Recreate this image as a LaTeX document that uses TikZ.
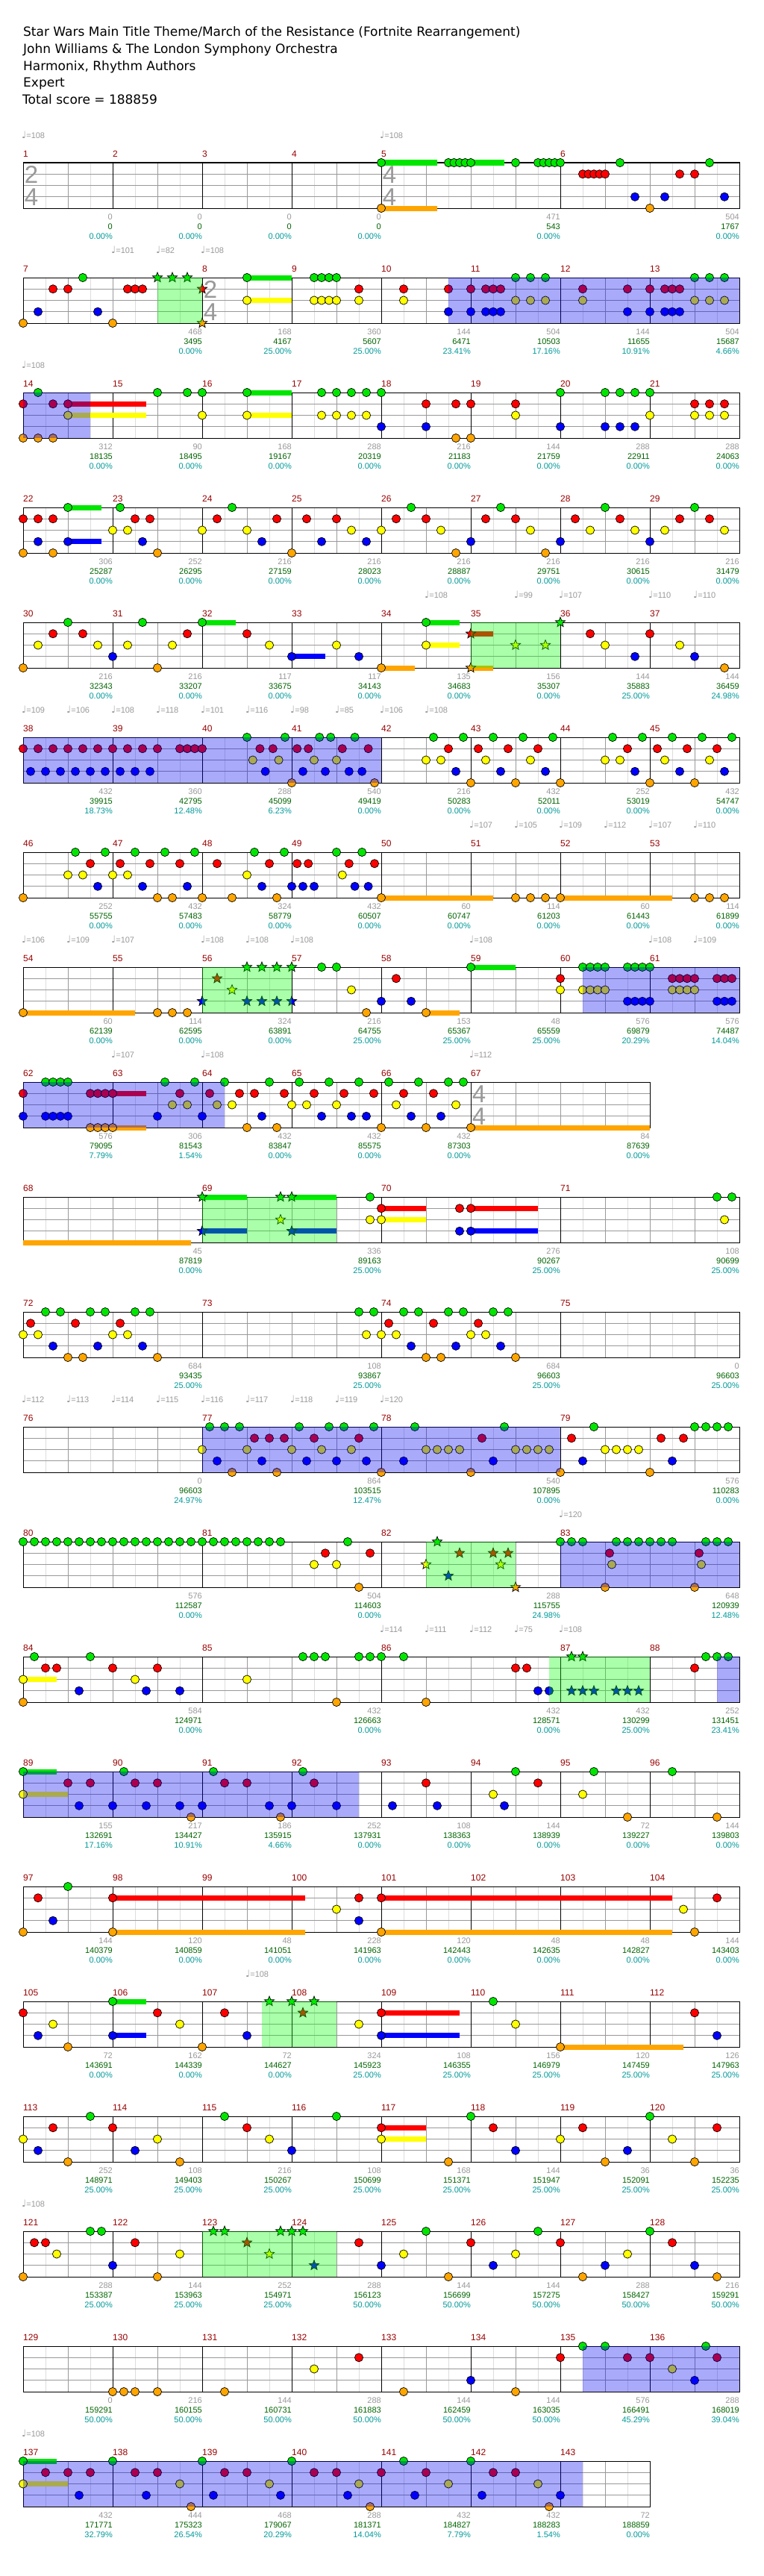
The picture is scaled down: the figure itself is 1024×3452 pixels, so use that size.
\documentclass[tikz,border=0pt]{standalone}
\usepackage{fontspec}
\setmainfont{Liberation Sans}
\newfontfamily\titlefont{DejaVu Sans}
\newfontfamily\notefont{DejaVu Sans}
\usetikzlibrary{positioning}

\definecolor{ln0}{RGB}{0,230,0}
\definecolor{ln1}{RGB}{255,0,0}
\definecolor{ln2}{RGB}{255,255,0}
\definecolor{ln3}{RGB}{0,0,255}
\definecolor{ln4}{RGB}{255,165,0}
\definecolor{odblue}{RGB}{0,0,240}
\definecolor{spgreen}{RGB}{0,255,0}
\definecolor{mred}{RGB}{153,0,0}
\definecolor{sgrey}{RGB}{153,153,153}
\definecolor{sgreen}{RGB}{0,100,0}
\definecolor{steal}{RGB}{0,153,153}
\definecolor{gridlight}{RGB}{221,221,221}

\tikzset{
  titletext/.style={anchor=base west, inner sep=0pt, font=\titlefont\fontsize{17}{17}\selectfont},
  mnum/.style={anchor=west, inner sep=0pt, text=mred, font=\fontsize{12}{12}\selectfont},
  lblgrey/.style={anchor=east, inner sep=0pt, text=sgrey, font=\fontsize{11}{11}\selectfont},
  lblgreen/.style={anchor=east, inner sep=0pt, text=sgreen, font=\fontsize{11}{11}\selectfont},
  lblpct/.style={anchor=east, inner sep=0pt, text=steal, font=\fontsize{11}{11}\selectfont},
  tempo/.style={anchor=west, inner sep=0pt, text=sgrey, font=\fontsize{11}{11}\selectfont},
  tsigdig/.style={inner sep=0pt, text=sgrey, font=\fontsize{33}{33}\selectfont},
  staffline/.style={draw=black, line width=1pt},
  barline/.style={draw=black, line width=1pt},
  laneline/.style={draw=sgrey, line width=1pt},
  beatline/.style={draw=sgrey, line width=1pt},
  halfline/.style={draw=gridlight, line width=1pt},
  note/.style={draw=black, line width=0.7pt},
  odfill/.style={fill=odblue, fill opacity=0.333},
  spfill/.style={fill=spgreen, fill opacity=0.333},
  pics/starmark/.style={code={
    \filldraw[note, fill=#1] (270:7) -- (306:3) -- (342:7) -- (18:3) -- (54:7) -- (90:3)
      -- (126:7) -- (162:3) -- (198:7) -- (234:3) -- cycle;}}
}

% staff of #1 beats, 60px per beat
\newcommand\staff[1]{%
  \pgfmathtruncatemacro\halfmax{2*#1-1}%
  \foreach \k in {1,3,...,\halfmax}{\draw[halfline] ({31+30*\k},0) -- ({31+30*\k},61);}%
  \foreach \k in {1,...,#1}{\draw[beatline] ({31+60*\k},0) -- ({31+60*\k},61);}%
  \foreach \l in {1,2,3}{\draw[laneline] (31,{15.25*\l}) -- ({31+60*#1},{15.25*\l});}%
  \draw[staffline] (31,0) rectangle ({31+60*#1},61);}
% measure: start beat, number, end beat, score, total, percent
\newcommand\msr[6]{%
  \draw[barline] ({31+60*#1},0) -- ({31+60*#1},61);
  \node[mnum] (m#2) at ({31+60*#1},-12) {#2};
  \node[lblgrey] (g#2) at ({31+60*#3},73) {#4};
  \node[lblgreen] (t#2) at ({31+60*#3},86) {#5};
  \node[lblpct] (p#2) at ({31+60*#3},99) {#6\%};}
\newcommand\tsig[3]{%
  \node[tsigdig] (ts\rw-#1a) at ({31+60*#1+11},16) {#2};
  \node[tsigdig] (ts\rw-#1b) at ({31+60*#1+11},46) {#3};}
\newcommand\tmp[2]{\node[tempo] (tp\rw-#1) at ({31+60*#1-2},-37) {{\notefont\fontsize{13}{13}\selectfont ♩}=#2};}
\newcommand\nts[2]{\foreach \b in {#2}{\filldraw[note, fill=ln#1] ({31+60*\b},{15.25*#1}) circle[radius=5.6];}}
\newcommand\sts[2]{\foreach \b in {#2}{\pic at ({31+60*\b},{15.25*#1}) {starmark=ln#1};}}
\newcommand\sus[3]{\fill[ln#1] ({31+60*#2},{15.25*#1-3.5}) rectangle ({31+60*#3},{15.25*#1+3.5});}
\newcommand\odzone[2]{\fill[odfill] ({31+60*#1},0) rectangle ({31+60*#2},61);}
\newcommand\spzone[2]{\fill[spfill] ({31+60*#1},0) rectangle ({31+60*#2},61);}

\begin{document}
\begin{tikzpicture}[x=1pt, y=-1pt]
\useasboundingbox (0,0) rectangle (1024,3452);
\fill[white] (0,0) rectangle (1024,3452);

% header
\node[titletext] (song) at (31,48.5) {Star Wars Main Title Theme/March of the Resistance (Fortnite Rearrangement)};
\node[titletext] (artist) at (31,71.5) {John Williams \& The London Symphony Orchestra};
\node[titletext] (authors) at (31,94.5) {Harmonix, Rhythm Authors};
\node[titletext] (level) at (31,117) {Expert};
\node[titletext] (total) at (30,140) {Total score = 188859};

% row 1
\begin{scope}[shift={(0,218)}]\def\rw{1}
\staff{16}
\msr{0}{1}{2}{0}{0}{0.00}
\msr{2}{2}{4}{0}{0}{0.00}
\msr{4}{3}{6}{0}{0}{0.00}
\msr{6}{4}{8}{0}{0}{0.00}
\msr{8}{5}{12}{471}{543}{0.00}
\msr{12}{6}{16}{504}{1767}{0.00}
\tsig{0}{2}{4}\tsig{8}{4}{4}
\tmp{0}{108}\tmp{8}{108}
\sus{0}{8}{9.25}\sus{4}{8}{9.25}\sus{0}{10}{10.75}
\nts{0}{8,9.5,9.625,9.75,9.875,10,11,11.5,11.625,11.75,11.875,12,13.333,15.333}
\nts{1}{12.5,12.625,12.75,12.875,13,14.667,15}
\nts{3}{13.667,14.333,15.667}
\nts{4}{8,14}
\end{scope}

% row 2
\begin{scope}[shift={(0,372)}]\def\rw{2}
\staff{16}
\msr{0}{7}{4}{468}{3495}{0.00}
\msr{4}{8}{6}{168}{4167}{25.00}
\msr{6}{9}{8}{360}{5607}{25.00}
\msr{8}{10}{10}{144}{6471}{23.41}
\msr{10}{11}{12}{504}{10503}{17.16}
\msr{12}{12}{14}{144}{11655}{10.91}
\msr{14}{13}{16}{504}{15687}{4.66}
\tsig{4}{2}{4}
\tmp{2}{101}\tmp{3}{82}\tmp{4}{108}
\sus{0}{5}{6}\sus{2}{5}{6}
\nts{0}{1.333,5,6.5,6.667,6.833,7,11,11.333,11.667,15,15.333,15.667}
\nts{1}{0.667,1,2.333,2.5,2.667,7.5,8.5,9.5,10,10.333,10.5,10.667,12.5,13.5,14,14.333,14.5,14.667}
\nts{2}{5,6.5,6.667,6.833,7,7.5,8.5,11,11.333,11.667,12.5,15,15.333,15.667}
\nts{3}{0.333,1.667,9.5,10,10.333,10.5,10.667,13.5,14,14.333,14.5,14.667}
\nts{4}{0,2}
\sts{0}{3,3.333,3.667}\sts{1}{4}\sts{4}{4}
\spzone{3}{4}\odzone{9.5}{16}
\end{scope}

% row 3
\begin{scope}[shift={(0,526)}]\def\rw{3}
\staff{16}
\msr{0}{14}{2}{312}{18135}{0.00}
\msr{2}{15}{4}{90}{18495}{0.00}
\msr{4}{16}{6}{168}{19167}{0.00}
\msr{6}{17}{8}{288}{20319}{0.00}
\msr{8}{18}{10}{216}{21183}{0.00}
\msr{10}{19}{12}{144}{21759}{0.00}
\msr{12}{20}{14}{288}{22911}{0.00}
\msr{14}{21}{16}{288}{24063}{0.00}
\tmp{0}{108}
\sus{1}{1}{2.75}\sus{2}{1}{2.75}\sus{0}{5}{6}\sus{2}{5}{6}
\nts{0}{0.333,3,3.667,4,5,6.667,7,7.333,7.667,8,12,13,13.333,13.667,14}
\nts{1}{0,0.667,1,9,9.667,10,11,15,15.333,15.667}
\nts{2}{1,4,5,6.667,7,7.333,7.667,11,14,15,15.333,15.667}
\nts{3}{8,9,12,13,13.333,13.667}
\nts{4}{0,0.333,0.667,9.667,10}
\odzone{0}{1.5}
\end{scope}

% row 4
\begin{scope}[shift={(0,680)}]\def\rw{4}
\staff{16}
\msr{0}{22}{2}{306}{25287}{0.00}
\msr{2}{23}{4}{252}{26295}{0.00}
\msr{4}{24}{6}{216}{27159}{0.00}
\msr{6}{25}{8}{216}{28023}{0.00}
\msr{8}{26}{10}{216}{28887}{0.00}
\msr{10}{27}{12}{216}{29751}{0.00}
\msr{12}{28}{14}{216}{30615}{0.00}
\msr{14}{29}{16}{216}{31479}{0.00}
\sus{0}{1}{1.75}\sus{3}{1}{1.75}
\nts{0}{1,2.167,4.667,8.667,10.667,13,15}
\nts{1}{0,0.333,0.667,2.5,2.833,4.333,5.667,6.333,7,8.333,9,10.333,11,12.333,13.333,14.667,15.333}
\nts{2}{2,2.333,4,5,7.333,8,9.333,11.333,12.667,13.667,14.333,15.667}
\nts{3}{0.333,1,2.667,5.333,6.667,7.667,10,12,14}
\nts{4}{0,0.667,3,6,9.667,11.667}
\end{scope}

% row 5
\begin{scope}[shift={(0,834)}]\def\rw{5}
\staff{16}
\msr{0}{30}{2}{216}{32343}{0.00}
\msr{2}{31}{4}{216}{33207}{0.00}
\msr{4}{32}{6}{117}{33675}{0.00}
\msr{6}{33}{8}{117}{34143}{0.00}
\msr{8}{34}{10}{135}{34683}{0.00}
\msr{10}{35}{12}{156}{35307}{0.00}
\msr{12}{36}{14}{144}{35883}{25.00}
\msr{14}{37}{16}{144}{36459}{24.98}
\tmp{9}{108}\tmp{11}{99}\tmp{12}{107}\tmp{14}{110}\tmp{15}{110}
\sus{0}{4}{4.75}\sus{3}{6}{6.75}\sus{4}{8}{8.75}\sus{0}{9}{9.75}\sus{2}{9}{9.75}
\sus{1}{10}{10.5}\sus{4}{10}{10.5}
\nts{0}{1,2.667,4,9}
\nts{1}{0.667,1.333,3.667,5,12.667,14}
\nts{2}{0.333,1.667,2.333,3.333,5.5,7,9,13,14.667}
\nts{3}{2,6,7.5,13.667,15}
\nts{4}{0,3,8,15.667}
\sts{1}{10}\sts{4}{10}\sts{2}{11,11.667}\sts{0}{12}
\spzone{10}{12}
\end{scope}

% row 6
\begin{scope}[shift={(0,988)}]\def\rw{6}
\staff{16}
\msr{0}{38}{2}{432}{39915}{18.73}
\msr{2}{39}{4}{360}{42795}{12.48}
\msr{4}{40}{6}{288}{45099}{6.23}
\msr{6}{41}{8}{540}{49419}{0.00}
\msr{8}{42}{10}{216}{50283}{0.00}
\msr{10}{43}{12}{432}{52011}{0.00}
\msr{12}{44}{14}{252}{53019}{0.00}
\msr{14}{45}{16}{432}{54747}{0.00}
\tmp{0}{109}\tmp{1}{106}\tmp{2}{108}\tmp{3}{118}\tmp{4}{101}
\tmp{5}{116}\tmp{6}{98}\tmp{7}{85}\tmp{8}{106}\tmp{9}{108}
\nts{0}{5,5.85,6.62,6.87,7.41,9.167,9.833,10.5,11.167,11.833,13.167,13.833,14.5,15.167,15.833}
\nts{1}{0,0.333,0.667,1,1.333,1.667,2,2.333,2.667,3,3.5,3.667,3.833,4,5.29,5.58,6.12,6.37,7.13,7.71,9.5,10.167,10.833,11.5,13.5,14.167,14.833,15.5}
\nts{2}{5.13,5.71,6.5,7,9,9.333,10.333,11.333,13,13.333,14.333,15.333}
\nts{3}{0.167,0.5,0.833,1.167,1.5,1.833,2.167,2.5,2.833,5.41,6.25,6.75,7.28,7.57,9.667,10.667,11.667,13.667,14.667,15.667}
\nts{4}{6,7.85,10,11,12,14,15}
\odzone{0}{8}
\end{scope}

% row 7
\begin{scope}[shift={(0,1142)}]\def\rw{7}
\staff{16}
\msr{0}{46}{2}{252}{55755}{0.00}
\msr{2}{47}{4}{432}{57483}{0.00}
\msr{4}{48}{6}{324}{58779}{0.00}
\msr{6}{49}{8}{432}{60507}{0.00}
\msr{8}{50}{10}{60}{60747}{0.00}
\msr{10}{51}{12}{114}{61203}{0.00}
\msr{12}{52}{14}{60}{61443}{0.00}
\msr{14}{53}{16}{114}{61899}{0.00}
\tmp{10}{107}\tmp{11}{105}\tmp{12}{109}\tmp{13}{112}\tmp{14}{107}\tmp{15}{110}
\sus{4}{8}{10.5}\sus{4}{12}{14.5}
\nts{0}{1.167,1.833,2.5,3.167,3.833,5.167,5.833,7,7.57}
\nts{1}{1.5,2.167,2.833,3.5,4.333,5.5,6.12,6.37,7.28,7.85}
\nts{2}{1,1.333,2,2.333,5,7.13}
\nts{3}{1.667,2.667,3.667,5.333,6,6.25,6.5,7.41,7.71}
\nts{4}{0,3,3.333,4,4.667,5.667,8,11,11.333,11.667,12,15,15.333,15.667}
\end{scope}

% row 8
\begin{scope}[shift={(0,1296)}]\def\rw{8}
\staff{16}
\msr{0}{54}{2}{60}{62139}{0.00}
\msr{2}{55}{4}{114}{62595}{0.00}
\msr{4}{56}{6}{324}{63891}{0.00}
\msr{6}{57}{8}{216}{64755}{25.00}
\msr{8}{58}{10}{153}{65367}{25.00}
\msr{10}{59}{12}{48}{65559}{25.00}
\msr{12}{60}{14}{576}{69879}{20.29}
\msr{14}{61}{16}{576}{74487}{14.04}
\tmp{0}{106}\tmp{1}{109}\tmp{2}{107}\tmp{4}{108}\tmp{5}{108}\tmp{6}{108}
\tmp{10}{108}\tmp{14}{108}\tmp{15}{109}
\sus{4}{0}{2.5}\sus{4}{9}{9.75}\sus{0}{10}{11}
\nts{0}{6.667,7,10,12.5,12.667,12.833,13,13.5,13.667,13.833,14}
\nts{1}{8.333,12,14.5,14.667,14.833,15,15.5,15.667,15.833}
\nts{2}{7.333,12,12.5,12.667,12.833,13,14.5,14.667,14.833,15}
\nts{3}{8,8.667,13.5,13.667,13.833,14,15.5,15.667,15.833}
\nts{4}{0,3,3.333,3.667,7.667,9}
\sts{3}{4,5,5.333,5.667,6}\sts{1}{4.333}\sts{2}{4.667}\sts{0}{5,5.333,5.667,6}
\spzone{4}{6}\odzone{12.5}{16}
\end{scope}

% row 9
\begin{scope}[shift={(0,1450)}]\def\rw{9}
\staff{14}
\msr{0}{62}{2}{576}{79095}{7.79}
\msr{2}{63}{4}{306}{81543}{1.54}
\msr{4}{64}{6}{432}{83847}{0.00}
\msr{6}{65}{8}{432}{85575}{0.00}
\msr{8}{66}{10}{432}{87303}{0.00}
\msr{10}{67}{14}{84}{87639}{0.00}
\tsig{10}{4}{4}
\tmp{2}{107}\tmp{4}{108}\tmp{10}{112}
\sus{1}{2}{2.75}\sus{4}{2}{2.75}\sus{4}{10}{14}
\nts{0}{0.5,0.667,0.833,1,3.167,3.833,4.5,5.5,6.167,6.833,7.5,8.167,8.833,9.5,9.833}
\nts{1}{0,1.5,1.667,1.833,2,3.5,4.167,4.833,5.167,5.833,6.5,7.167,7.833,8.5,9.167}
\nts{2}{3.333,3.667,4.333,4.667,6,6.333,7,8.333,9.667}
\nts{3}{0,0.5,0.667,0.833,1,3,4,5.333,6.667,7.333,7.667,8.667,9.333}
\nts{4}{1.5,1.667,1.833,2,5,5.667,8,9,10}
\odzone{0}{4.5}
\end{scope}

% row 10
\begin{scope}[shift={(0,1604)}]\def\rw{10}
\staff{16}
\msr{0}{68}{4}{45}{87819}{0.00}
\msr{4}{69}{8}{336}{89163}{25.00}
\msr{8}{70}{12}{276}{90267}{25.00}
\msr{12}{71}{16}{108}{90699}{25.00}
\sus{4}{0}{3.75}\sus{0}{4}{5}\sus{3}{4}{5}\sus{0}{6}{7}\sus{3}{6}{7}
\sus{1}{8}{9}\sus{2}{8}{9}\sus{1}{10}{11.5}\sus{3}{10}{11.5}
\nts{0}{7.75,15.5,15.833}
\nts{1}{8,9.75,10}
\nts{2}{7.75,8,15.667}
\nts{3}{9.75,10}
\sts{0}{4,5.75,6}\sts{2}{5.75}\sts{3}{4,6}
\spzone{4}{7}
\end{scope}

% row 11
\begin{scope}[shift={(0,1758)}]\def\rw{11}
\staff{16}
\msr{0}{72}{4}{684}{93435}{25.00}
\msr{4}{73}{8}{108}{93867}{25.00}
\msr{8}{74}{12}{684}{96603}{25.00}
\msr{12}{75}{16}{0}{96603}{25.00}
\nts{0}{0.5,0.833,1.5,1.833,2.5,2.833,7.5,7.833,8.5,8.833,9.5,9.833,10.5,10.833}
\nts{1}{0.167,1.167,2.167,8.167,9.167,10.167}
\nts{2}{0,0.333,2,2.333,7.667,8,8.333,10,10.333}
\nts{3}{0.667,1.667,2.667,8.667,9.667,10.667}
\nts{4}{1,1.333,3,9,9.333,11}
\end{scope}

% row 12
\begin{scope}[shift={(0,1912)}]\def\rw{12}
\staff{16}
\msr{0}{76}{4}{0}{96603}{24.97}
\msr{4}{77}{8}{864}{103515}{12.47}
\msr{8}{78}{12}{540}{107895}{0.00}
\msr{12}{79}{16}{576}{110283}{0.00}
\tmp{0}{112}\tmp{1}{113}\tmp{2}{114}\tmp{3}{115}\tmp{4}{116}
\tmp{5}{117}\tmp{6}{118}\tmp{7}{119}\tmp{8}{120}
\nts{0}{4.167,4.5,4.833,6.167,6.833,7.167,7.833,8.75,10.75,12.75,15,15.25,15.5,15.75}
\nts{1}{5.167,5.5,5.833,6.5,7.5,10.25,12.25,14.25,14.75}
\nts{2}{4,5,6,6.667,7.333,9,9.25,9.5,9.75,11,11.25,11.5,11.75,13,13.25,13.5,13.75}
\nts{3}{4.333,5.333,6.333,7,7.667,8.5,10.5,12.5,14.5}
\nts{4}{4.667,5.667,8,10,12,14}
\odzone{4}{12}
\end{scope}

% row 13
\begin{scope}[shift={(0,2066)}]\def\rw{13}
\staff{16}
\msr{0}{80}{4}{576}{112587}{0.00}
\msr{4}{81}{8}{504}{114603}{0.00}
\msr{8}{82}{12}{288}{115755}{24.98}
\msr{12}{83}{16}{648}{120939}{12.48}
\tmp{12}{120}
\nts{0}{0,0.25,...,5.75,7.25,12,12.25,12.5,13.25,13.5,13.75,14,14.25,14.5,15.25,15.5,15.75}
\nts{1}{6.75,7.75,13.1,15.1}
\nts{2}{6.5,7,13.15,15.15}
\nts{4}{7.5,13,15}
\sts{0}{9.25}\sts{1}{9.75,10.5,10.833}\sts{2}{9,10.667}\sts{3}{9.5}\sts{4}{11}
\spzone{9}{11}\odzone{12}{16}
\end{scope}

% row 14
\begin{scope}[shift={(0,2220)}]\def\rw{14}
\staff{16}
\msr{0}{84}{4}{584}{124971}{0.00}
\msr{4}{85}{8}{432}{126663}{0.00}
\msr{8}{86}{12}{432}{128571}{0.00}
\msr{12}{87}{14}{432}{130299}{25.00}
\msr{14}{88}{16}{252}{131451}{23.41}
\tmp{8}{114}\tmp{9}{111}\tmp{10}{112}\tmp{11}{75}\tmp{12}{108}
\sus{2}{0}{0.75}
\nts{0}{0.25,1.5,6.25,6.5,6.75,7.5,7.75,8,8.5,15.25,15.5,15.75}
\nts{1}{0.5,0.75,2,3,11,11.25,15}
\nts{2}{0,2.5,5}
\nts{3}{1.25,2.75,3.5,11.5,11.75}
\nts{4}{0,7,9}
\sts{0}{12.25,12.5}\sts{3}{12.25,12.5,12.75,13.25,13.5,13.75}
\spzone{11.75}{14}\odzone{15.5}{16}
\end{scope}

% row 15
\begin{scope}[shift={(0,2374)}]\def\rw{15}
\staff{16}
\msr{0}{89}{2}{155}{132691}{17.16}
\msr{2}{90}{4}{217}{134427}{10.91}
\msr{4}{91}{6}{186}{135915}{4.66}
\msr{6}{92}{8}{252}{137931}{0.00}
\msr{8}{93}{10}{108}{138363}{0.00}
\msr{10}{94}{12}{144}{138939}{0.00}
\msr{12}{95}{14}{72}{139227}{0.00}
\msr{14}{96}{16}{144}{139803}{0.00}
\sus{0}{0}{0.75}\sus{2}{0}{1}
\nts{0}{0,2.25,4.25,6.25,11,12.75,14.5}
\nts{1}{1,1.5,2.5,3,4.5,5,6.5,9,11.5}
\nts{2}{0,10.5,12.5}
\nts{3}{1.25,2,2.75,3.5,4,5.5,6,7,8.25,9.25,10.75}
\nts{4}{3.75,5.75,13.5,15.5}
\odzone{0}{7.5}
\end{scope}

% row 16
\begin{scope}[shift={(0,2528)}]\def\rw{16}
\staff{16}
\msr{0}{97}{2}{144}{140379}{0.00}
\msr{2}{98}{4}{120}{140859}{0.00}
\msr{4}{99}{6}{48}{141051}{0.00}
\msr{6}{100}{8}{228}{141963}{0.00}
\msr{8}{101}{10}{120}{142443}{0.00}
\msr{10}{102}{12}{48}{142635}{0.00}
\msr{12}{103}{14}{48}{142827}{0.00}
\msr{14}{104}{16}{144}{143403}{0.00}
\sus{1}{2}{6.3}\sus{4}{2}{6.3}\sus{1}{8}{14.5}\sus{4}{8}{14.5}
\nts{0}{1}
\nts{1}{0.333,2,7.5,8,15.5}
\nts{2}{7,14.75}
\nts{3}{0.667,7.5}
\nts{4}{0,2,8,15}
\end{scope}

% row 17
\begin{scope}[shift={(0,2682)}]\def\rw{17}
\staff{16}
\msr{0}{105}{2}{72}{143691}{0.00}
\msr{2}{106}{4}{162}{144339}{0.00}
\msr{4}{107}{6}{72}{144627}{0.00}
\msr{6}{108}{8}{324}{145923}{25.00}
\msr{8}{109}{10}{108}{146355}{25.00}
\msr{10}{110}{12}{156}{146979}{25.00}
\msr{12}{111}{14}{120}{147459}{25.00}
\msr{14}{112}{16}{126}{147963}{25.00}
\tmp{5}{108}
\sus{0}{2}{2.75}\sus{3}{2}{2.75}\sus{1}{8}{9.75}\sus{3}{8}{9.75}\sus{4}{12}{14.75}
\nts{0}{2,10.5}
\nts{1}{0,3,4.5,8,15}
\nts{2}{0.667,3.5,7.5,11}
\nts{3}{0.333,2,5,8,15.5}
\nts{4}{1,4,12}
\sts{0}{5.5,6,6.5}\sts{1}{6.25}
\spzone{5.333}{7}
\end{scope}

% row 18
\begin{scope}[shift={(0,2836)}]\def\rw{18}
\staff{16}
\msr{0}{113}{2}{252}{148971}{25.00}
\msr{2}{114}{4}{108}{149403}{25.00}
\msr{4}{115}{6}{216}{150267}{25.00}
\msr{6}{116}{8}{108}{150699}{25.00}
\msr{8}{117}{10}{168}{151371}{25.00}
\msr{10}{118}{12}{144}{151947}{25.00}
\msr{12}{119}{14}{36}{152091}{25.00}
\msr{14}{120}{16}{36}{152235}{25.00}
\sus{1}{8}{9}\sus{2}{8}{9}
\nts{0}{1.5,4.5,7,10,14}
\nts{1}{0.667,2,5,8,10.5,12.5,15.5}
\nts{2}{0,3,5.5,8,12,14.5}
\nts{3}{0.333,2.5,6,11,13.5}
\nts{4}{1,3.5,9.5,13,15}
\end{scope}

% row 19
\begin{scope}[shift={(0,2990)}]\def\rw{19}
\staff{16}
\msr{0}{121}{2}{288}{153387}{25.00}
\msr{2}{122}{4}{144}{153963}{25.00}
\msr{4}{123}{6}{252}{154971}{25.00}
\msr{6}{124}{8}{288}{156123}{50.00}
\msr{8}{125}{10}{144}{156699}{50.00}
\msr{10}{126}{12}{144}{157275}{50.00}
\msr{12}{127}{14}{288}{158427}{50.00}
\msr{14}{128}{16}{216}{159291}{50.00}
\tmp{0}{108}
\nts{0}{1.5,1.75,9,11.5,14}
\nts{1}{0.25,0.5,2.5,7.5,10,12,14.5}
\nts{2}{0.75,3.5,8.5,11,13.5}
\nts{3}{2,8,10.5,13,15}
\nts{4}{0,3,9.5,12.5,15.5}
\sts{0}{4.25,4.5,5.75,6,6.25}\sts{1}{5}\sts{2}{5.5}\sts{3}{6.5}
\spzone{4}{7}
\end{scope}

% row 20
\begin{scope}[shift={(0,3144)}]\def\rw{20}
\staff{16}
\msr{0}{129}{2}{0}{159291}{50.00}
\msr{2}{130}{4}{216}{160155}{50.00}
\msr{4}{131}{6}{144}{160731}{50.00}
\msr{6}{132}{8}{288}{161883}{50.00}
\msr{8}{133}{10}{144}{162459}{50.00}
\msr{10}{134}{12}{144}{163035}{50.00}
\msr{12}{135}{14}{576}{166491}{45.29}
\msr{14}{136}{16}{288}{168019}{39.04}
\nts{0}{12.5,13,15.25}
\nts{1}{7.5,12,13.5,14,15.5}
\nts{2}{6.5,14.5}
\nts{3}{10,15}
\nts{4}{2,2.25,2.5,3,4.5,8.5,11}
\odzone{12.5}{16}
\end{scope}

% row 21
\begin{scope}[shift={(0,3298)}]\def\rw{21}
\staff{14}
\msr{0}{137}{2}{432}{171771}{32.79}
\msr{2}{138}{4}{444}{175323}{26.54}
\msr{4}{139}{6}{468}{179067}{20.29}
\msr{6}{140}{8}{288}{181371}{14.04}
\msr{8}{141}{10}{432}{184827}{7.79}
\msr{10}{142}{12}{432}{188283}{1.54}
\msr{12}{143}{14}{72}{188859}{0.00}
\tmp{0}{108}
\sus{0}{0}{0.75}\sus{2}{0}{1}
\nts{0}{0,2,4,6,8.5,10}
\nts{1}{0.5,1,1.5,2.5,3,4.5,5,6.5,7,8,9,10.5,11}
\nts{2}{0,3.5,5.5,7.5,9.5,11.5}
\nts{3}{1.25,2.75,4.25,5.75,7.25,8.75,10.25,12}
\nts{4}{3.75,7.75,11.75}
\odzone{0}{12.5}
\end{scope}
\end{tikzpicture}
\end{document}
